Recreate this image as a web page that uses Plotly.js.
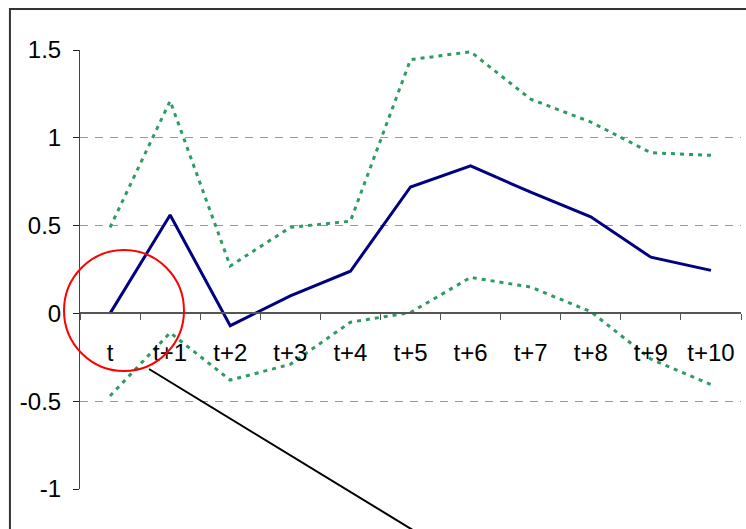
<!DOCTYPE html>
<html>
<head>
<meta charset="utf-8">
<script src="https://cdn.plot.ly/plotly-3.0.1.min.js"></script>
<style>
  html, body { margin: 0; padding: 0; background: #fff; }
  #chart { width: 746px; height: 529px; }
</style>
</head>
<body>
<div id="chart"></div>
<script>
// Horizon labels
const periods = ["t", "t+1", "t+2", "t+3", "t+4", "t+5", "t+6", "t+7", "t+8", "t+9", "t+10"];

// Point estimate of the response
const response = [0.00, 0.56, -0.07, 0.10, 0.24, 0.72, 0.84, 0.69, 0.55, 0.32, 0.245];

// Upper and lower confidence bands
const upperBand = [0.49, 1.21, 0.27, 0.49, 0.525, 1.445, 1.49, 1.22, 1.09, 0.915, 0.90];
const lowerBand = [-0.47, -0.11, -0.38, -0.29, -0.05, 0.005, 0.205, 0.15, 0.01, -0.26, -0.405];

// Y-axis ticks
const yTicks = [-1, -0.5, 0, 0.5, 1, 1.5];
const yTickText = ["-1", "-0.5", "0", "0.5", "1", "1.5"];

const bandColor = "#2f9a62";
const lineColor = "#000080";
const font = "Liberation Sans Narrow, Arial Narrow, Liberation Sans, Arial, sans-serif";

const bandStyle = { color: bandColor, width: 3, dash: "4px,5px" };

const traces = [
  { x: periods, y: upperBand, type: "scatter", mode: "lines", line: bandStyle, hoverinfo: "skip" },
  { x: periods, y: lowerBand, type: "scatter", mode: "lines", line: bandStyle, hoverinfo: "skip" },
  { x: periods, y: response, type: "scatter", mode: "lines", line: { color: lineColor, width: 3 } }
];

const layout = {
  width: 746,
  height: 529,
  margin: { l: 80, r: 5, t: 50, b: 40 },
  paper_bgcolor: "#ffffff",
  plot_bgcolor: "rgba(0,0,0,0)",
  showlegend: false,
  font: { family: font, size: 24, color: "#000" },
  xaxis: {
    type: "category",
    anchor: "free",
    position: (0 - (-1)) / (1.5 - (-1)),
    showline: true,
    linecolor: "#555",
    linewidth: 2,
    ticks: "outside",
    tickson: "boundaries",
    ticklen: 6,
    tickcolor: "#555",
    tickwidth: 1,
    ticklabelstandoff: 18,
    showgrid: false,
    zeroline: false,
    tickfont: { family: font, size: 24, color: "#000" },
    range: [-0.5, 10.5],
    fixedrange: true
  },
  yaxis: {
    range: [-1, 1.5],
    tickvals: yTicks,
    ticktext: yTickText,
    showline: true,
    linecolor: "#444",
    linewidth: 1,
    ticks: "outside",
    ticklen: 6,
    tickcolor: "#222",
    tickwidth: 1,
    ticklabelstandoff: 7,
    showgrid: true,
    gridcolor: "#999",
    gridwidth: 1,
    griddash: "8px,7px",
    zeroline: false,
    tickfont: { family: font, size: 24, color: "#000" },
    fixedrange: true
  },
  shapes: [
    // outer frame
    { type: "rect", xref: "paper", yref: "paper", x0: -0.106, x1: 2, y0: -1, y1: 1.0934,
      line: { color: "#333", width: 2 }, fillcolor: "rgba(0,0,0,0)" },
    // highlight around the starting period
    { type: "circle", xref: "paper", yref: "paper", x0: -0.0242, x1: 0.1573, y0: 0.2688, y1: 0.5444,
      line: { color: "#ff0000", width: 2 } },
    // pointer from the highlight
    { type: "line", xref: "paper", yref: "paper", x0: 0.1044, y0: 0.2733, x1: 0.5159, y1: -0.1048,
      line: { color: "#000", width: 2 } }
  ]
};

Plotly.newPlot("chart", traces, layout, { displayModeBar: false, staticPlot: true });
</script>
</body>
</html>
